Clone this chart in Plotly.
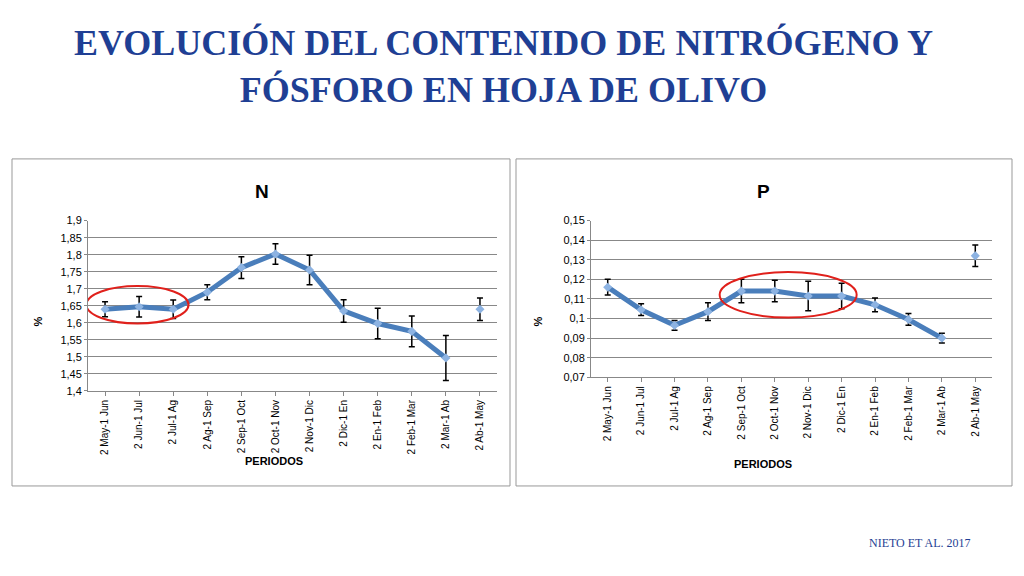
import plotly.graph_objects as go

periodos = ["2 May-1 Jun", "2 Jun-1 Jul", "2 Jul-1 Ag", "2 Ag-1 Sep", "2 Sep-1 Oct", "2 Oct-1 Nov",
            "2 Nov-1 Dic", "2 Dic-1 En", "2 En-1 Feb", "2 Feb-1 Mar", "2 Mar-1 Ab", "2 Ab-1 May"]
n_vals = [1.640, 1.647, 1.640, 1.690, 1.762, 1.802, 1.755, 1.635, 1.598, 1.575, 1.497, 1.640]
n_err = [0.022, 0.030, 0.027, 0.022, 0.032, 0.030, 0.043, 0.033, 0.045, 0.045, 0.066, 0.033]
p_vals = [0.116, 0.1045, 0.0965, 0.1035, 0.114, 0.114, 0.1115, 0.1115, 0.107, 0.0995, 0.090, 0.132]
p_err = [0.004, 0.003, 0.0025, 0.0045, 0.006, 0.0055, 0.0075, 0.0065, 0.0035, 0.003, 0.0025, 0.0055]

W, H = 1024, 576
xs = list(range(12))
line_c = "#4a7ebb"
mark_c = "#8db3e2"


def px(x):
    return (x - 8) / W


def py(y):
    return 1 - (y - 8) / H


fig = go.Figure()

def add_series(vals, err, xa, ya):
    fig.add_trace(go.Scatter(x=xs[:11], y=vals[:11], mode="lines", line=dict(color=line_c, width=5),
                             xaxis=xa, yaxis=ya, showlegend=False, hoverinfo="skip"))
    fig.add_trace(go.Scatter(x=xs, y=vals, mode="markers",
                             marker=dict(color=mark_c, size=7, symbol="diamond"),
                             error_y=dict(type="data", array=err, color="black", thickness=1.5, width=3),
                             xaxis=xa, yaxis=ya, showlegend=False))

add_series(n_vals, n_err, "x", "y")
add_series(p_vals, p_err, "x2", "y2")

axfont = dict(family="Liberation Sans, Arial", size=11, color="black")
xcommon = dict(range=[-0.5, 11.5], tickvals=xs, ticktext=periodos, tickangle=-90, showgrid=False,
               showline=True, linecolor="#888", ticks="outside", ticklen=4, tickcolor="#888",
               tickfont=dict(family="Liberation Sans, Arial", size=10, color="black"), zeroline=False)
ycommon = dict(showgrid=True, gridcolor="#888", gridwidth=1, showline=True, linecolor="#888",
               tickfont=axfont, zeroline=False, ticks="outside", ticklen=3, tickcolor="#888")

fig.update_layout(
    width=W, height=H, margin=dict(l=0, r=0, t=0, b=0),
    paper_bgcolor="white", plot_bgcolor="white",
    separators=", ",
    xaxis=dict(domain=[px(88), px(497)], anchor="y", **xcommon),
    yaxis=dict(domain=[py(393), py(219)], anchor="x", range=[1.4, 1.9], dtick=0.05,
               tickformat="~g", **ycommon),
    xaxis2=dict(domain=[px(591), px(992)], anchor="y2", **xcommon),
    yaxis2=dict(domain=[py(379), py(219)], anchor="x2", range=[0.07, 0.15], dtick=0.01,
                tickformat="~g", **ycommon),
)

shapes = [
    dict(type="rect", xref="paper", yref="paper", x0=px(12), x1=px(510), y0=py(490), y1=py(156),
         line=dict(color="#999", width=1)),
    dict(type="rect", xref="paper", yref="paper", x0=px(516), x1=px(1012), y0=py(490), y1=py(156),
         line=dict(color="#999", width=1)),
    dict(type="circle", xref="x", yref="y", x0=-0.55, x1=2.45, y0=1.598, y1=1.708,
         line=dict(color="#e0201b", width=2)),
    dict(type="circle", xref="x2", yref="y2", x0=3.35, x1=7.45, y0=0.1005, y1=0.1237,
         line=dict(color="#e0201b", width=2)),
]
fig.update_layout(shapes=shapes)


def note(text, x, y, font, **kw):
    fig.add_annotation(text=text, x=px(x), y=py(y), xref="paper", yref="paper", showarrow=False,
                       xanchor="center", yanchor="middle", font=font, **kw)


title_font = dict(family="Liberation Serif, DejaVu Serif", size=36, color="#1f3f94")
lab = dict(family="Liberation Sans, Arial", size=11, color="black")
note("<b>EVOLUCIÓN DEL CONTENIDO DE NITRÓGENO Y<br>FÓSFORO EN HOJA DE OLIVO</b>", 503, 62, title_font,
     align="center")
note("<b>N</b>", 262, 189, dict(family="Liberation Sans, Arial", size=19, color="black"))
note("<b>P</b>", 763, 189, dict(family="Liberation Sans, Arial", size=19, color="black"))
note("<b>PERIODOS</b>", 274, 465, lab)
note("<b>PERIODOS</b>", 763, 468, lab)
note("<b>%</b>", 38, 322, lab, textangle=-90)
note("<b>%</b>", 538, 322, lab, textangle=-90)
note("NIETO ET AL. 2017", 920, 548, dict(family="Liberation Serif", size=12, color="#1f3f94"))

fig.write_html("out.html")
